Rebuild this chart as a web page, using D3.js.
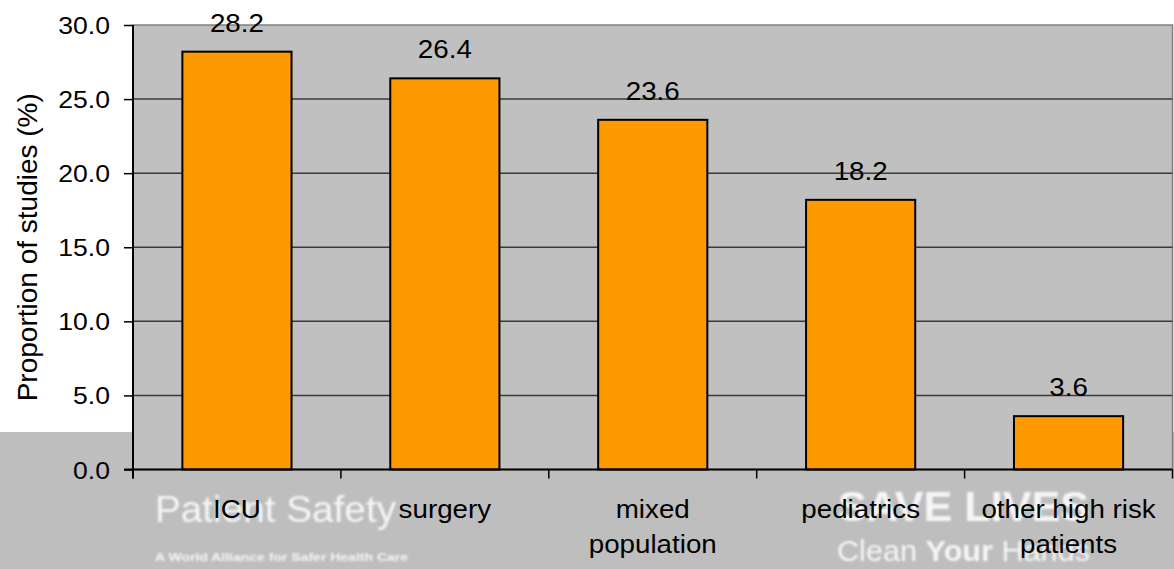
<!DOCTYPE html>
<html>
<head>
<meta charset="utf-8">
<script src="https://cdn.jsdelivr.net/npm/d3@7"></script>
<style>
  html, body { margin: 0; padding: 0; background: #ffffff; }
  svg { display: block; }
  text { font-family: "Liberation Sans", Arial, sans-serif; }
</style>
</head>
<body>
<svg id="chart" width="1174" height="569"></svg>
<script>
// Study settings and share of studies in each
const categories = ["ICU", "surgery", "mixed population", "pediatrics", "other high risk patients"];
const categoryLines = [["ICU"], ["surgery"], ["mixed", "population"], ["pediatrics"], ["other high risk", "patients"]];
const values = [28.2, 26.4, 23.6, 18.2, 3.6];
const yTicks = [0, 5, 10, 15, 20, 25, 30];
const yTitle = "Proportion of studies (%)";

const W = 1174, H = 569;
const plot = { left: 133, right: 1172.5, top: 25, bottom: 469.5 };
const WIDE = 1.11; // horizontal stretch of the slide's lettering

const svg = d3.select("#chart");

// Soft blur used by the slide watermark
const defs = svg.append("defs");
defs.append("filter").attr("id", "soft")
  .append("feGaussianBlur").attr("stdDeviation", 0.9);

// Slide footer band
svg.append("rect").attr("x", 0).attr("y", 432).attr("width", W).attr("height", H - 432)
  .attr("fill", "#bebebe");

const wm = svg.append("g").attr("filter", "url(#soft)").attr("fill", "#f6f6f6");
wm.append("text").attr("x", 155).attr("y", 522).attr("font-size", 37)
  .attr("textLength", 241).attr("lengthAdjust", "spacingAndGlyphs")
  .text("Patient Safety");
wm.append("text").attr("x", 155).attr("y", 561).attr("font-size", 11.5).attr("font-weight", "bold")
  .attr("textLength", 253).attr("lengthAdjust", "spacingAndGlyphs")
  .text("A World Alliance for Safer Health Care");
wm.append("text").attr("x", 838).attr("y", 521).attr("font-size", 42).attr("font-weight", "bold")
  .attr("textLength", 251).attr("lengthAdjust", "spacingAndGlyphs")
  .text("SAVE LIVES");
const clean = wm.append("text").attr("x", 837).attr("y", 561).attr("font-size", 29)
  .attr("textLength", 253).attr("lengthAdjust", "spacingAndGlyphs");
clean.append("tspan").text("Clean ");
clean.append("tspan").attr("font-weight", "bold").text("Your");
clean.append("tspan").text(" Hands");
svg.append("line").attr("x1", 623).attr("x2", 623).attr("y1", 476).attr("y2", H)
  .attr("stroke", "#ececec").attr("stroke-width", 2).attr("filter", "url(#soft)");

// Scales
const x = d3.scaleBand().domain(categories).range([plot.left, plot.right])
  .paddingInner(0.475).paddingOuter(0.2375);
const band = d3.scaleBand().domain(categories).range([plot.left, plot.right]);
const y = d3.scaleLinear().domain([0, 30]).range([plot.bottom, plot.top]);

// Plot area
svg.append("rect").attr("x", plot.left).attr("y", plot.top)
  .attr("width", plot.right - plot.left).attr("height", plot.bottom - plot.top)
  .attr("fill", "#c0c0c0").attr("stroke", "#808080").attr("stroke-width", 1.5);

// Horizontal gridlines
svg.append("g").selectAll("line").data(yTicks.filter(t => t > 0 && t < 30)).join("line")
  .attr("x1", plot.left).attr("x2", plot.right)
  .attr("y1", d => y(d)).attr("y2", d => y(d))
  .attr("stroke", "#3a3a3a").attr("stroke-width", 1.5);

// Bars
svg.append("g").selectAll("rect").data(values).join("rect")
  .attr("x", (d, i) => x(categories[i]))
  .attr("y", d => y(d))
  .attr("width", x.bandwidth())
  .attr("height", d => y(0) - y(d))
  .attr("fill", "#ff9900").attr("stroke", "#000").attr("stroke-width", 2);

// Value labels
svg.append("g").selectAll("text").data(values).join("text")
  .attr("transform", (d, i) => `translate(${x(categories[i]) + x.bandwidth() / 2},${y(d) - 20}) scale(${WIDE},1)`)
  .attr("text-anchor", "middle").attr("font-size", 25).attr("fill", "#000")
  .text(d => d.toFixed(1));

// Y axis
const yAxis = d3.axisLeft(y).tickValues(yTicks).tickFormat(d3.format(".1f")).tickSize(9).tickPadding(13);
const gy = svg.append("g").attr("transform", `translate(${plot.left},0)`).call(yAxis);
gy.select(".domain").attr("stroke", "#000").attr("stroke-width", 2)
  .attr("d", `M0,${plot.top}V${plot.bottom + 9}`);
gy.selectAll(".tick line").attr("stroke", "#000").attr("stroke-width", 1.5);
gy.selectAll(".tick text")
  .attr("x", null).attr("dy", null)
  .attr("transform", `translate(-23,8.5) scale(1.13,1)`)
  .attr("font-size", 23.5).attr("fill", "#000")
  .attr("font-family", "'Liberation Sans', Arial, sans-serif");

// X axis
const xAxis = d3.axisBottom(band).tickSize(0).tickFormat("");
const gx = svg.append("g").attr("transform", `translate(0,${plot.bottom})`).call(xAxis);
gx.select(".domain").attr("stroke", "#000").attr("stroke-width", 2)
  .attr("d", `M${plot.left - 9},0H${plot.right}`);
gx.selectAll(".tick").remove();
const bounds = categories.map(c => band(c)).concat([plot.right]);
gx.selectAll("line.sep").data(bounds).join("line").attr("class", "sep")
  .attr("x1", d => d).attr("x2", d => d).attr("y1", 0).attr("y2", 9)
  .attr("stroke", "#000").attr("stroke-width", 1.5);

// Category labels
const lab = svg.append("g").selectAll("text").data(categories).join("text")
  .attr("text-anchor", "middle").attr("font-size", 25).attr("fill", "#000")
  .attr("transform", d => `translate(${band(d) + band.bandwidth() / 2},518) scale(${WIDE},1)`);
lab.selectAll("tspan").data((d, i) => categoryLines[i]).join("tspan")
  .attr("x", 0)
  .attr("dy", (d, i) => i === 0 ? 0 : 35)
  .text(d => d);

// Y title
svg.append("text")
  .attr("transform", `translate(37,${(plot.top + plot.bottom) / 2}) rotate(-90)`)
  .attr("text-anchor", "middle").attr("font-size", 28).attr("fill", "#000")
  .text(yTitle);
</script>
</body>
</html>
